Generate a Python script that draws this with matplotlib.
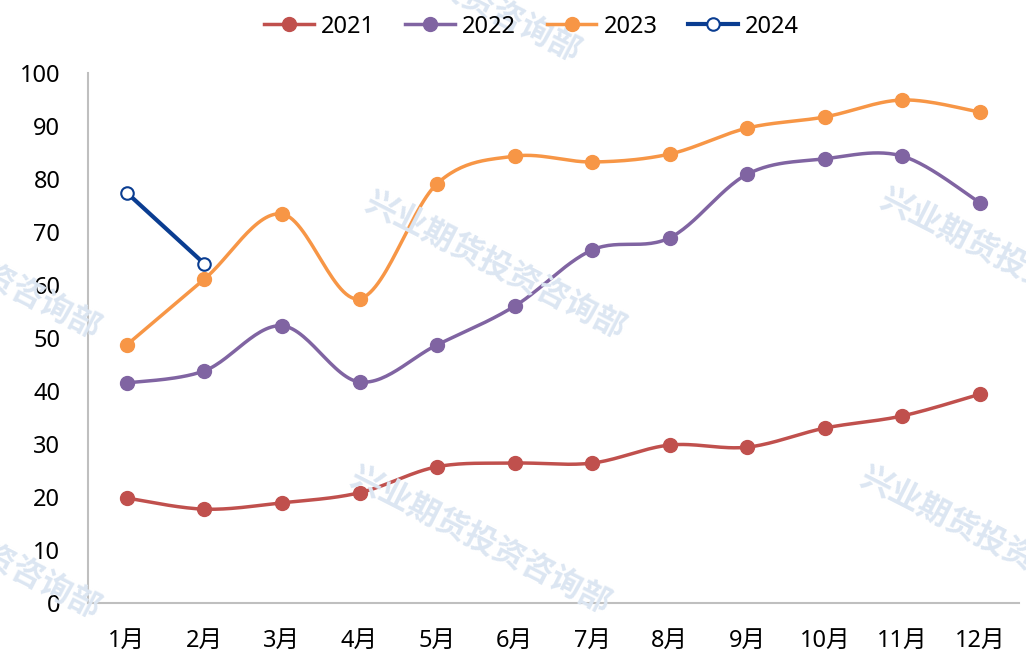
import numpy as np
import matplotlib
matplotlib.use("Agg")
import matplotlib.pyplot as plt

plt.rcParams['font.family'] = ['Noto Sans', 'Noto Sans CJK SC', 'DejaVu Sans']

months = ['1月', '2月', '3月', '4月', '5月', '6月', '7月', '8月', '9月', '10月', '11月', '12月']
v2021 = [19.8, 17.7, 18.9, 20.8, 25.7, 26.4, 26.4, 29.8, 29.4, 33.0, 35.3, 39.4]
v2022 = [41.5, 43.8, 52.3, 41.7, 48.7, 56.0, 66.6, 68.9, 80.9, 83.8, 84.3, 75.5]
v2023 = [48.7, 61.1, 73.4, 57.4, 79.1, 84.3, 83.2, 84.7, 89.6, 91.7, 94.9, 92.6]
v2024 = [77.4, 64.0]

colors = {'2021': '#C0504D', '2022': '#8064A2', '2023': '#F79646', '2024': '#0A3D91'}


def smooth(x, y, n=30):
    # Excel-like smoothed line: cubic Bezier with Catmull-Rom control points
    x = np.asarray(x, float)
    y = np.asarray(y, float)
    if len(x) < 3:
        return x, y
    px = np.concatenate([[x[0]], x, [x[-1]]])
    py = np.concatenate([[y[0]], y, [y[-1]]])
    xs, ys = [], []
    t = np.linspace(0, 1, n)
    for i in range(1, len(px) - 2):
        p0 = np.array([px[i], py[i]])
        p3 = np.array([px[i + 1], py[i + 1]])
        c1 = p0 + (np.array([px[i + 1], py[i + 1]]) - np.array([px[i - 1], py[i - 1]])) / 6
        c2 = p3 - (np.array([px[i + 2], py[i + 2]]) - np.array([px[i], py[i]])) / 6
        b = ((1 - t) ** 3)[:, None] * p0 + (3 * (1 - t) ** 2 * t)[:, None] * c1 \
            + (3 * (1 - t) * t ** 2)[:, None] * c2 + (t ** 3)[:, None] * p3
        xs.append(b[:, 0])
        ys.append(b[:, 1])
    return np.concatenate(xs), np.concatenate(ys)


fig = plt.figure(figsize=(10.26, 6.57), dpi=100)
ax = fig.add_axes([0.0858, 0.0822, 0.9072, 0.8068])

# watermarks
wm = '兴业期货投资咨询部'
for (wx, wy) in [(495, 265), (1010, 262), (480, 540), (990, 540), (-30, 265), (-30, 545), (450, -12)]:
    fig.text(wx / 1026, 1 - wy / 657, wm, fontsize=23, fontweight='bold', color='#dce6f2',
             family=['Noto Sans CJK SC'], rotation=-27, ha='center', va='center',
             rotation_mode='anchor', zorder=0)

x = np.arange(len(months))
for name, vals in [('2021', v2021), ('2022', v2022), ('2023', v2023)]:
    sx, sy = smooth(x, vals)
    ax.plot(sx, sy, color=colors[name], lw=2.5, zorder=3)
    ax.plot(x, vals, 'o', color=colors[name], ms=10, zorder=4)
    ax.plot([], [], '-o', color=colors[name], lw=2.5, ms=10, label=name)

x24 = np.arange(len(v2024))
ax.plot(x24, v2024, '-o', color=colors['2024'], lw=3, ms=9, mfc='white',
        mec=colors['2024'], mew=1.5, zorder=5, label='2024')

ax.set_xlim(-0.5, 11.5)
ax.set_ylim(0, 100)
ax.set_yticks(range(0, 101, 10))
ax.set_xticks(x)
ax.set_xticklabels(months)
ax.tick_params(axis='both', length=0, labelsize=17)
ax.tick_params(axis='y', pad=20)
ax.tick_params(axis='x', pad=19)
for s in ['top', 'right']:
    ax.spines[s].set_visible(False)
for s in ['left', 'bottom']:
    ax.spines[s].set_color('#bfbfbf')
    ax.spines[s].set_linewidth(1.5)
ax.patch.set_alpha(0)

fig.legend(loc='upper center', bbox_to_anchor=(0.518, 1.01), ncol=4, frameon=False,
           fontsize=17, handlelength=2.1, handletextpad=0.3, columnspacing=1.3)

fig.savefig('out.png', dpi=100)
